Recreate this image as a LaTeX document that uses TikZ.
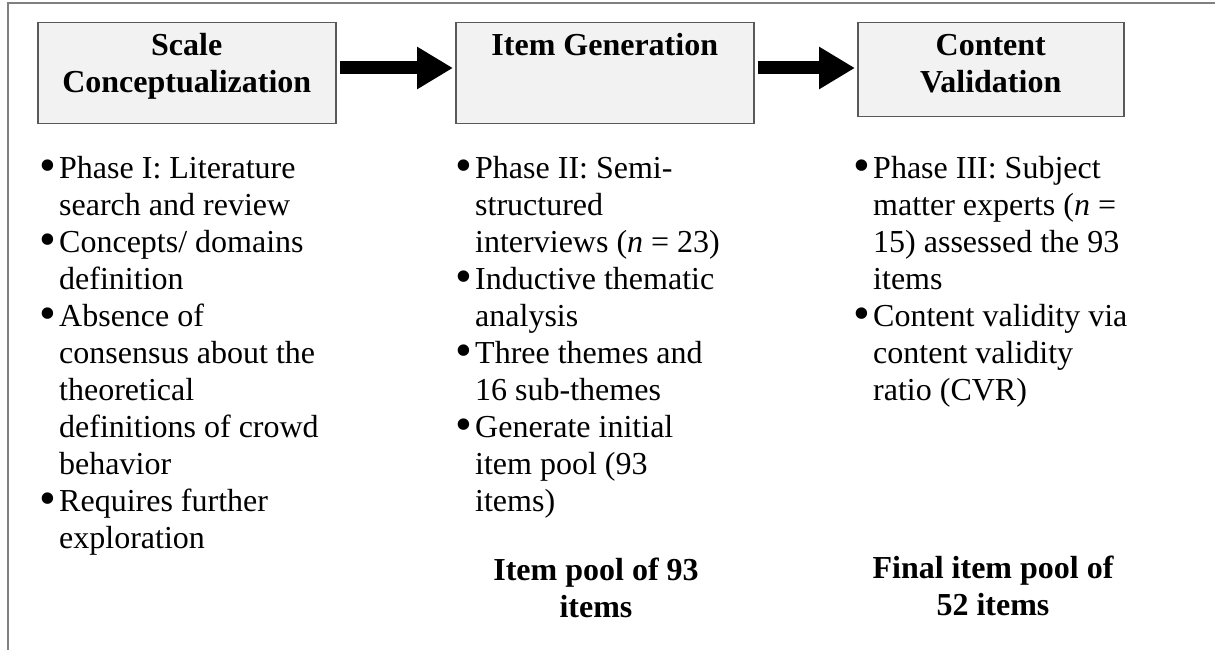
\documentclass[tikz,border=0pt]{standalone}
\usepackage{fontspec}
\setmainfont{Liberation Serif}
\usetikzlibrary{arrows.meta,positioning}
\definecolor{boxfill}{HTML}{F2F2F2}
\definecolor{boxline}{HTML}{595959}
\definecolor{frameline}{HTML}{808080}
\hyphenpenalty=10000
\newcommand{\bul}{\par\hangindent=20pt\hangafter=1\noindent\makebox[20pt][l]{\raisebox{-3.5pt}{\scalebox{1.5}{\textbullet}}}\strut}

\begin{document}
\begin{tikzpicture}[x=1pt,y=-1pt,every node/.style={font=\fontsize{32}{37}\selectfont,inner sep=0pt},
 stage/.style={draw=boxline,line width=1.5pt,fill=boxfill,minimum height=101pt,anchor=north west},
 title/.style={font=\fontsize{32}{37}\selectfont\bfseries,align=center},
 notes/.style={text width=#1,align=flush left,anchor=north west},
 bigarr/.style={-{Triangle[length=36pt,width=40pt]},line width=13pt}]
\useasboundingbox (0,0) rectangle (1215,650);
\draw[frameline,line width=1.5pt] (1215,3) -- (8,3) -- (8,650);
% the three stages
\node[stage,minimum width=298pt] (scale) at (37,22) {};
\node[stage,minimum width=298pt] (itemgen) at (455,22) {};
\node[stage,minimum width=266pt,minimum height=94pt] (content) at (857,22) {};
\node[title,below=7pt of scale.north] (scaleT) {\strut Scale\\Conceptualization};
\node[title,below=7pt of itemgen.north] (itemgenT) {\strut Item Generation};
\node[title,below=7pt of content.north] (contentT) {\strut Content\\Validation};
\coordinate (axis) at (0,68);
\draw[bigarr,shorten <=3pt,shorten >=2pt] (scale.east |- axis) -- (itemgen.west |- axis);
\draw[bigarr,shorten <=3pt,shorten >=2pt] (itemgen.east |- axis) -- (content.west |- axis);
% phases
\node[notes=288pt] (phase1) at (39,141) {\bul Phase I: Literature search and review \bul Concepts/ domains definition \bul Absence of consensus about the theoretical definitions of crowd behavior \bul Requires further exploration\par};
\node[notes=276pt] (phase2) at (455,141) {\bul Phase II: Semi-\newline structured interviews (\textit{n} = 23) \bul Inductive thematic analysis \bul Three themes and 16 sub-themes \bul Generate initial item pool (93 items)\par};
\node[notes=278pt] (phase3) at (853,141) {\bul Phase III: Subject matter experts (\textit{n} = 15) assessed the 93 items \bul Content validity via content validity ratio (CVR)\par};
% results
\node[title,anchor=north] (pool1) at (596,554) {\strut Item pool of 93\\items};
\node[title,anchor=north] (pool2) at (993,552) {\strut Final item pool of\\52 items};
\end{tikzpicture}
\end{document}
